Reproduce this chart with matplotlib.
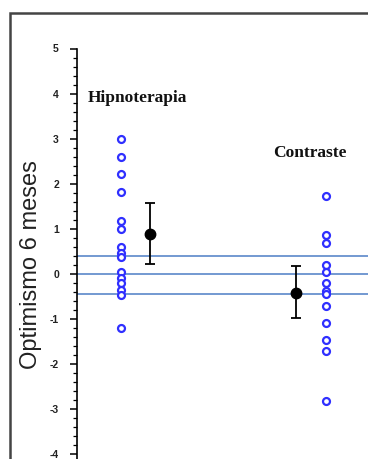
import matplotlib
matplotlib.use("Agg")
import matplotlib.pyplot as plt
from matplotlib.patches import Rectangle
import numpy as np

groups = ["Hipnoterapia", "Contraste"]
hipno = [3.0, 2.6, 2.22, 1.82, 1.18, 1.0, 0.6, 0.47, 0.38, 0.03, -0.1, -0.21, -0.36, -0.47, -1.2]
contraste = [1.73, 0.86, 0.68, 0.2, 0.03, -0.21, -0.38, -0.46, -0.72, -1.1, -1.48, -1.72, -2.82]
means = [0.88, -0.42]
err_lo = [0.66, 0.57]
err_hi = [0.68, 0.60]
ref_lines = [0.40, 0.0, -0.45]
label_y = [3.90, 2.68]
yticks = [-4, -3, -2, -1, 0, 1, 2, 3, 4, 5]

W, H = 368, 459
fig = plt.figure(figsize=(W / 100, H / 100), dpi=100)

left = 77 / W
top = 1 - 48.5 / H
ax = fig.add_axes([left, 0, 1 - left, top])
ymin = 5 - (H - 48.5) / 45.05
ax.set_ylim(ymin, 5)
ax.set_xlim(1 - 44 / 205, 2 + 42 / 205)

pos = [1, 2]
dot_color = "#2f2fff"
for p, vals in zip(pos, [hipno, contraste]):
    ax.plot([p] * len(vals), vals, "o", mfc="white", mec=dot_color, ms=5.0, mew=1.6, zorder=3)

for y in ref_lines:
    ax.axhline(y, color="#5b87c9", lw=1.2, zorder=1)

offsets = [0.14, -0.146]
mx = [p + o for p, o in zip(pos, offsets)]
ax.errorbar(mx, means, yerr=[err_lo, err_hi], fmt="o", color="black", ms=7.5,
            capsize=3.5, elinewidth=1.3, capthick=1.3, zorder=4)

label_x = [1 + (88 - 121) / 205, 2 + (273 - 326) / 205]
for x, y, t in zip(label_x, label_y, groups):
    ax.text(x, y, t, ha="left", va="center", family="Liberation Serif",
            fontweight="bold", fontsize=12.5, color="#111111")

for s in ["top", "right", "bottom"]:
    ax.spines[s].set_visible(False)
ax.spines["left"].set_linewidth(1.2)
ax.set_xticks([])
ax.set_yticks(yticks)
ax.set_yticklabels([str(v) for v in yticks], family="Liberation Sans", fontsize=7.5,
                   fontweight="bold", color="#222222")
ax.yaxis.set_minor_locator(matplotlib.ticker.MultipleLocator(0.2))
ax.tick_params(axis="y", which="major", length=5, width=1.1, pad=8, direction="out")
ax.tick_params(axis="y", which="minor", length=3, width=0.9, direction="out")
ax.patch.set_alpha(0)

fig.text(31 / W, 1 - 265 / H, "Optimismo 6 meses", rotation=90, ha="center", va="center",
         family="Liberation Sans", fontsize=17, color="#222222")

fig.add_artist(Rectangle((9.5 / W, -0.2), 2.0, 1.2 - 13 / H, transform=fig.transFigure,
                         fill=False, edgecolor="#444444", lw=1.8, clip_on=False))

fig.savefig("out.png", dpi=100)
